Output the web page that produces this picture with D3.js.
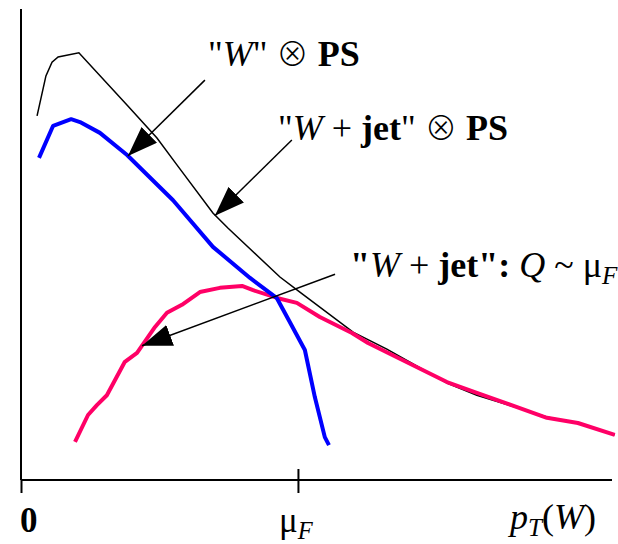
<!DOCTYPE html>
<html>
<head>
<meta charset="utf-8">
<script src="https://cdn.jsdelivr.net/npm/d3@7"></script>
<style>
  body { margin: 0; background: #fff; }
  text { font-family: "Liberation Serif", "Times New Roman", serif; fill: #000; }
</style>
</head>
<body>
<div id="vis"></div>
<script>
// frame
const FRAME_WIDTH = 618;
const FRAME_HEIGHT = 544;

// x in units of mu_F, y in arbitrary units (0..100)
const X_MAX = 2.134;
const Y_MAX = 100;

// "W" (x) PS  -- thin black
const W_PS_X = [0.058, 0.090, 0.112, 0.134, 0.209, 0.386, 0.491, 0.563, 0.693, 0.747,
                0.935, 1.007, 1.199, 1.321, 1.538, 1.646, 1.899, 2.007, 2.144];
const W_PS_Y = [77.3, 85.8, 88.7, 89.8, 90.7, 79.4, 72.6, 66.9, 56.7, 53.5,
                43.1, 39.9, 31.4, 27.8, 20.6, 18.0, 13.4, 12.1, 9.6];

// "W + jet" (x) PS  -- blue
const WJ_PS_X = [0.065, 0.116, 0.181, 0.213, 0.285, 0.383, 0.549, 0.693, 0.827, 0.924,
                 0.971, 1.025, 1.061, 1.097, 1.112];
const WJ_PS_Y = [68.4, 75.2, 76.6, 76.0, 73.7, 69.0, 59.4, 49.5, 42.9, 38.6,
                 33.5, 27.6, 17.6, 9.1, 7.4];

// "W + jet": Q ~ mu_F  -- red
const WJ_Q_X = [0.195, 0.242, 0.274, 0.310, 0.375, 0.419, 0.484, 0.527, 0.581, 0.646,
                0.718, 0.798, 0.838, 0.928, 0.996, 1.079, 1.195, 1.253, 1.538, 1.646,
                1.899, 2.011, 2.144];
const WJ_Q_Y = [8.1, 13.8, 15.9, 18.0, 25.1, 27.0, 32.5, 35.5, 37.2, 39.9,
                40.8, 41.2, 40.3, 38.6, 37.6, 34.6, 31.2, 29.1, 20.8, 18.5,
                13.2, 12.1, 9.6];

// ticks on the x axis
const TICK_VALUES = [0, 1];

// annotation arrows: [x0, y0, x1(tip), y1(tip)]
const ARROWS = [
  [0.664, 84.9, 0.386, 68.8],
  [0.978, 72.2, 0.700, 56.1],
  [1.134, 43.7, 0.437, 28.5]
];

// label anchor points [x, y]
const LABEL_POS = [[0.675, 87.9], [0.928, 72.2], [1.188, 43.1]];

const X_SCALE = d3.scaleLinear().domain([0, X_MAX]).range([21, 612]);
const Y_SCALE = d3.scaleLinear().domain([0, Y_MAX]).range([480, 9]);

const SVG = d3.select("#vis")
              .append("svg")
                .attr("width", FRAME_WIDTH)
                .attr("height", FRAME_HEIGHT);

// arrowhead
SVG.append("defs").append("marker")
    .attr("id", "head")
    .attr("markerUnits", "userSpaceOnUse")
    .attr("viewBox", "0 0 30 22")
    .attr("refX", 30).attr("refY", 11)
    .attr("markerWidth", 30).attr("markerHeight", 22)
    .attr("orient", "auto")
  .append("path")
    .attr("d", "M0,0 L30,11 L0,22 Z")
    .attr("fill", "#000");

// axes
const xAxis = d3.axisBottom(X_SCALE)
                .tickValues(TICK_VALUES)
                .tickSizeInner(13)
                .tickSizeOuter(0)
                .tickFormat("");

const gx = SVG.append("g")
    .attr("transform", "translate(0," + Y_SCALE(0) + ")")
    .call(xAxis);
gx.select(".domain").remove();
gx.selectAll(".tick line").attr("stroke", "#000").attr("stroke-width", 2);
// mu_F tick also pokes above the axis
gx.selectAll(".tick").filter((d) => d > 0)
  .select("line").attr("y1", -11);

SVG.append("line")
    .attr("x1", X_SCALE(0)).attr("x2", X_SCALE(X_MAX))
    .attr("y1", Y_SCALE(0)).attr("y2", Y_SCALE(0))
    .attr("stroke", "#000").attr("stroke-width", 2);
SVG.append("line")
    .attr("x1", X_SCALE(0)).attr("x2", X_SCALE(0))
    .attr("y1", Y_SCALE(0)).attr("y2", Y_SCALE(Y_MAX))
    .attr("stroke", "#000").attr("stroke-width", 2);

// curves
const line = d3.line()
               .x((d) => X_SCALE(d[0]))
               .y((d) => Y_SCALE(d[1]));

function pairs(xs, ys) { return xs.map((x, i) => [x, ys[i]]); }

SVG.append("path")
    .attr("d", line(pairs(W_PS_X, W_PS_Y)))
    .attr("fill", "none").attr("stroke", "#000").attr("stroke-width", 1.5);
SVG.append("path")
    .attr("d", line(pairs(WJ_Q_X, WJ_Q_Y)))
    .attr("fill", "none").attr("stroke", "#ff0066").attr("stroke-width", 4)
    .attr("stroke-linejoin", "round");
SVG.append("path")
    .attr("d", line(pairs(WJ_PS_X, WJ_PS_Y)))
    .attr("fill", "none").attr("stroke", "#0000ff").attr("stroke-width", 4)
    .attr("stroke-linejoin", "round");

// arrows
SVG.selectAll(".arrow")
    .data(ARROWS)
    .enter()
    .append("line")
      .attr("class", "arrow")
      .attr("x1", (d) => X_SCALE(d[0])).attr("y1", (d) => Y_SCALE(d[1]))
      .attr("x2", (d) => X_SCALE(d[2])).attr("y2", (d) => Y_SCALE(d[3]))
      .attr("stroke", "#000").attr("stroke-width", 1.5)
      .attr("marker-end", "url(#head)");

// labels, built from tspans
function label(pos, parts, size) {
  size = size || 36;
  const t = SVG.append("text")
      .attr("x", X_SCALE(pos[0])).attr("y", Y_SCALE(pos[1]))
      .attr("font-size", size);
  parts.forEach((p) => {
    const s = t.append("tspan").text(p.t);
    if (p.i) s.attr("font-style", "italic");
    if (p.b) s.attr("font-weight", "bold");
    if (p.sub) s.attr("font-size", size * 0.7).attr("dy", 7);
    if (p.up) s.attr("dy", -7);
    if (p.op) s.style("font-family", "'Noto Sans CJK JP'").attr("font-weight", 300)
               .attr("font-size", size * 0.9);
  });
  return t;
}

label(LABEL_POS[0], [
  {t: "\""}, {t: "W", i: true}, {t: "\" "}, {t: "\u2297", op: true}, {t: " "}, {t: "PS", b: true}
]);
label(LABEL_POS[1], [
  {t: "\""}, {t: "W", i: true}, {t: " + "}, {t: "jet", b: true}, {t: "\" "},
  {t: "\u2297", op: true}, {t: " "}, {t: "PS", b: true}
]);
label(LABEL_POS[2], [
  {t: "\"", b: true}, {t: "W", i: true}, {t: " + "}, {t: "jet\":", b: true}, {t: " "},
  {t: "Q", i: true}, {t: " ~ \u03bc"}, {t: "F", i: true, sub: true}
]);

// axis labels
SVG.append("text").attr("x", X_SCALE(0) - 1).attr("y", 532)
    .attr("font-size", 35).attr("font-weight", "bold").text("0");
label([0, 0], [{t: "\u03bc"}, {t: "F", i: true, sub: true}], 35)
    .attr("x", X_SCALE(1) - 19).attr("y", 532);
label([0, 0], [{t: "p", i: true}, {t: "T", i: true, sub: true}, {t: "(", up: true}, {t: "W", i: true}, {t: ")"}], 36)
    .attr("x", 510).attr("y", 529);
</script>
</body>
</html>
